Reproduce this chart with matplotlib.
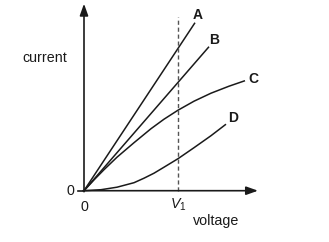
import numpy as np
import matplotlib
matplotlib.use('Agg')
import matplotlib.pyplot as plt

plt.rcParams['font.family'] = 'Liberation Sans'
plt.rcParams['mathtext.fontset'] = 'custom'
plt.rcParams['mathtext.it'] = 'Liberation Sans:italic'
plt.rcParams['mathtext.rm'] = 'Liberation Sans'

# curves (voltage, current), arbitrary units
a_x = [0, 111]
a_y = [0, 168]
b_x = [0, 125]
b_y = [0, 144]
c_x = [0, 10, 20, 33, 50, 67, 80, 94, 110, 127, 145, 161]
c_y = [0, 10.8, 21, 33.5, 48, 62, 71.5, 80.5, 89.5, 97.5, 104.5, 110]
d_x = [0, 17, 33, 50, 60, 70, 80, 94, 110, 127, 142]
d_y = [0, 1, 3.5, 8, 12.5, 17.5, 23.5, 32, 43, 55, 66.5]
v1 = 94
labels = ['A', 'B', 'C', 'D']
label_pos = [(114, 176), (130, 151), (169, 112), (149, 73)]

fig = plt.figure(figsize=(3.29, 2.42), dpi=100)
ax = fig.add_axes([0, 0, 1, 1])
ax.set_xlim(-84, 245)
ax.set_ylim(-51.3, 190.7)
ax.axis('off')

lc = '#1a1a1a'
for xs, ys in [(a_x, a_y), (b_x, b_y), (c_x, c_y), (d_x, d_y)]:
    ax.plot(xs, ys, color=lc, lw=1.1, solid_capstyle='butt', solid_joinstyle='round')

for lab, (x, y) in zip(labels, label_pos):
    ax.text(x, y, lab, fontsize=10, fontweight='bold', ha='center', va='center', color=lc)

# dashed V1 line
ax.plot([v1, v1], [0, 174], color='#555555', lw=1.0, ls=(0, (3, 2)))

# axes with arrows
ax.annotate('', xy=(174, 0), xytext=(-1, 0),
            arrowprops=dict(arrowstyle='-|>,head_length=0.7,head_width=0.25', color=lc, lw=1.2, shrinkA=0, shrinkB=0))
ax.annotate('', xy=(0, 187), xytext=(0, -1),
            arrowprops=dict(arrowstyle='-|>,head_length=0.7,head_width=0.25', color=lc, lw=1.2, shrinkA=0, shrinkB=0))
ax.plot([-6, 0], [0, 0], color=lc, lw=1.2)

ax.text(-14, 0, '0', fontsize=10.3, ha='center', va='center', color=lc)
ax.text(0, -16, '0', fontsize=10.3, ha='center', va='center', color=lc)
ax.text(v1, -14, r'$V_1$', fontsize=10.3, ha='center', va='center', color=lc)
ax.text(-39, 133, 'current', fontsize=10.3, ha='center', va='center', color=lc)
ax.text(132, -30, 'voltage', fontsize=10.3, ha='center', va='center', color=lc)

fig.savefig('out.png', dpi=100)
